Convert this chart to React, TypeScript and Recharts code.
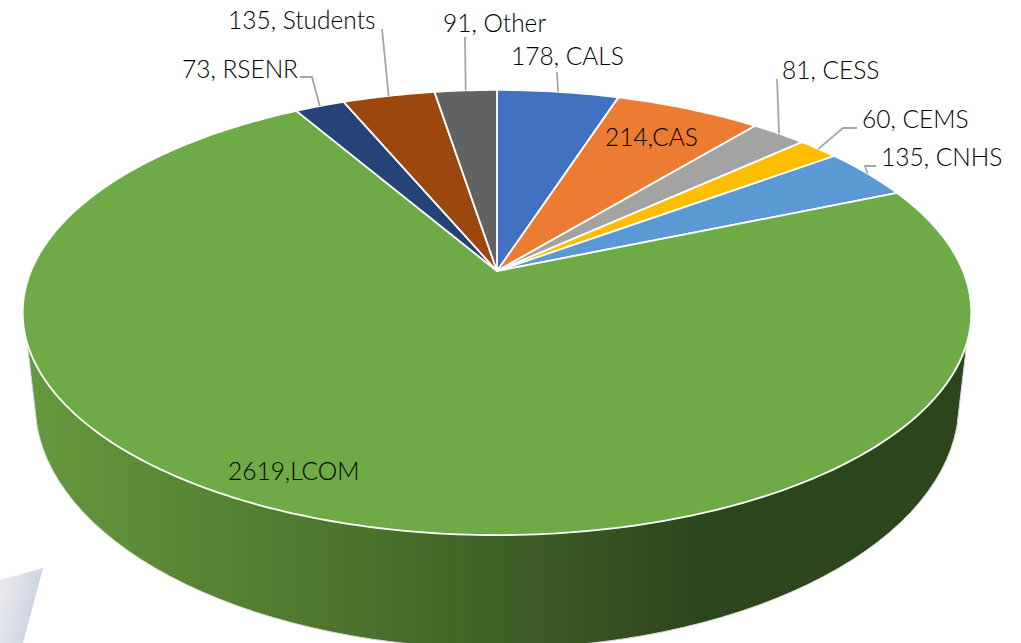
import { PieChart, Pie, Cell } from 'recharts'

const names = ['CALS', 'CAS', 'CESS', 'CEMS', 'CNHS', 'LCOM', 'RSENR', 'Students', 'Other']
const values = [178, 214, 81, 60, 135, 2619, 73, 135, 91]
const colors = ['#4371c2', '#ec7c31', '#a3a3a3', '#fdbe00', '#5a99d3', '#6eab47', '#254377', '#9c470e', '#626262']
const insideNames = ['CAS', 'LCOM']

const data = names.map((name, i) => ({ name, value: values[i] }))

// label text anchor (left x, baseline) per slice
const labelPos = [
  [511, 65], [605, 146], [782, 79], [862, 128], [881, 166],
  [228, 480], [182, 78], [228, 29], [443, 32],
]

// leader line bends, running from the label towards the rim
const leaders: number[][][] = [
  [[557, 72]], [], [[777, 79]], [[857, 128], [843, 128]], [[876, 166], [865, 166]],
  [], [[300, 77], [312, 77]], [[382, 29]], [[465, 37]],
]

const CX = 497
const CY = 271
const RADIUS = 466
const TILT = 0.461 // vertical squash of the disc
const PERSP = 0.1865 // far side shrinks by this

// map a point on the flat disc to the tilted view (theta clockwise from top)
function project(thetaDeg: number) {
  const t = (thetaDeg * Math.PI) / 180
  const w = 1 + PERSP * Math.cos(t)
  return {
    x: CX + (RADIUS * Math.sin(t)) / w,
    y: CY - (RADIUS * TILT * Math.cos(t)) / w,
  }
}

function wallPath() {
  const a = project(-108.4)
  const b = project(108.4)
  const halfW = 460
  const bottomY = 426
  return (
    `M${a.x},${a.y} L${CX - halfW},${bottomY} ` +
    `A462,245 0 0 0 ${CX + halfW},${bottomY} L${b.x},${b.y} Z`
  )
}

function SliceShape(props: any) {
  const from = 90 - props.startAngle
  const to = 90 - props.endAngle
  const steps = Math.max(2, Math.ceil(Math.abs(to - from)))
  let d = `M${CX},${CY}`
  for (let i = 0; i <= steps; i++) {
    const p = project(from + ((to - from) * i) / steps)
    d += ` L${p.x},${p.y}`
  }
  d += ' Z'
  return (
    <g>
      {props.name === 'LCOM' && <path d={wallPath()} fill="url(#wallFill)" stroke="#d9d9d9" strokeWidth={1} />}
      <path d={d} fill={props.fill} stroke="#fff" strokeWidth={1.8} strokeLinejoin="round" />
    </g>
  )
}

function SliceLabel(props: any) {
  const i = props.index
  const sep = insideNames.includes(props.name) ? ',' : ', '
  return (
    <text x={labelPos[i][0]} y={labelPos[i][1]} textAnchor="start" fontFamily="Lato" fontWeight={300} fontSize={24.5} fill="#000">
      {`${props.value}${sep}${props.name}`}
    </text>
  )
}

function LeaderLine(props: any) {
  const bends = leaders[props.index]
  if (!bends || !bends.length) return <g />
  const rim = project(90 - props.midAngle)
  const pts = [...bends, [rim.x, rim.y]].map((p) => p.join(',')).join(' ')
  return <polyline points={pts} fill="none" stroke="#a6a6a6" strokeWidth={1.8} />
}

export default function App() {
  return (
    <div style={{ position: 'absolute', left: 0, top: 0, width: 1021, height: 643, overflow: 'hidden', background: '#fff' }}>
      <PieChart width={1021} height={643} margin={{ top: 0, right: 0, bottom: 0, left: 0 }}>
        <defs>
          <linearGradient id="wallFill" gradientUnits="userSpaceOnUse" x1={27} y1={0} x2={700} y2={0}>
            <stop offset="0" stopColor="#66993d" />
            <stop offset="0.5" stopColor="#4b722d" />
            <stop offset="1" stopColor="#2d451c" />
          </linearGradient>
          <linearGradient id="backdrop" gradientUnits="userSpaceOnUse" x1={0} y1={600} x2={40} y2={610}>
            <stop offset="0" stopColor="#e8e9ec" />
            <stop offset="1" stopColor="#c9d0e2" />
          </linearGradient>
        </defs>
        <polygon points="0,580 43,568 23,643 0,643" fill="url(#backdrop)" />
        <Pie
          data={data}
          dataKey="value"
          nameKey="name"
          cx={CX}
          cy={CY}
          outerRadius={RADIUS}
          startAngle={90}
          endAngle={-270}
          isAnimationActive={false}
          shape={SliceShape}
          label={SliceLabel}
          labelLine={LeaderLine}
        >
          {data.map((d, i) => (
            <Cell key={d.name} fill={colors[i]} />
          ))}
        </Pie>
      </PieChart>
    </div>
  )
}
